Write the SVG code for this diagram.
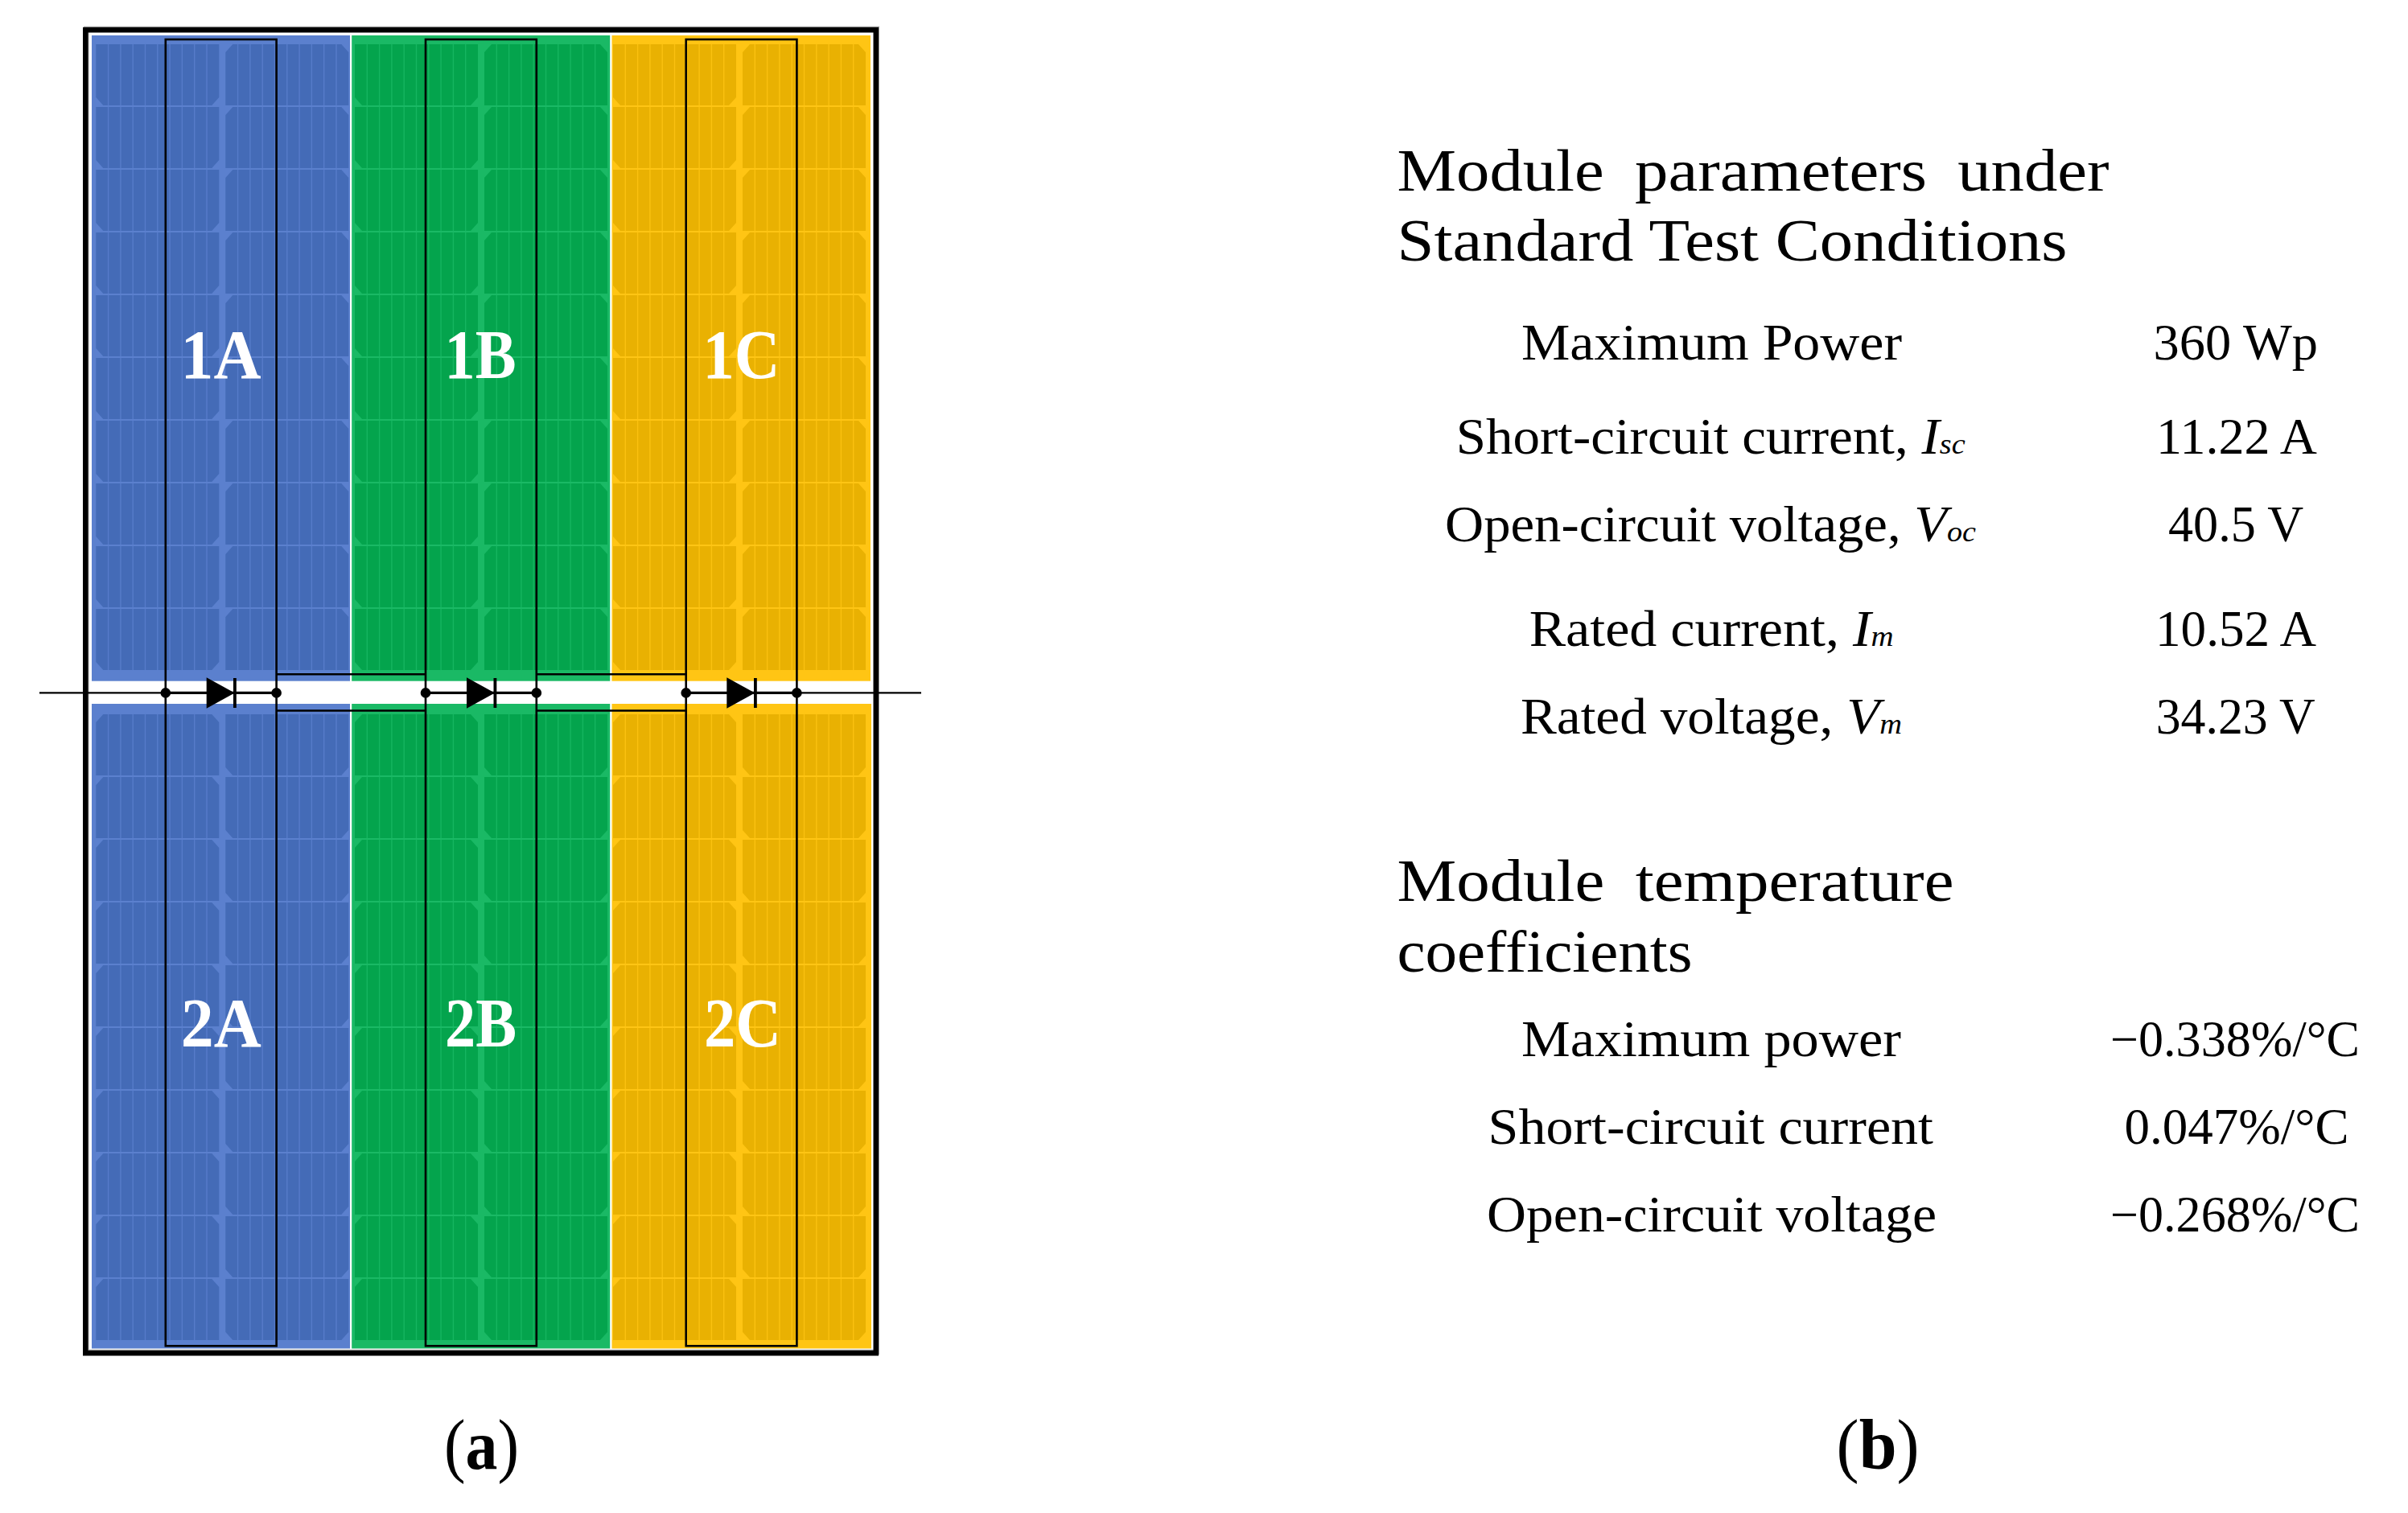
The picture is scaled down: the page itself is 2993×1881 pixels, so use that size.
<svg xmlns="http://www.w3.org/2000/svg" xmlns:xlink="http://www.w3.org/1999/xlink" width="2993" height="1881" viewBox="0 0 2993 1881">
<style>
text{font-family:"Liberation Serif","Times New Roman",serif;fill:#000}
.h{font-size:75px}
.t{font-size:63px}
.cap{font-size:88px}
.lbl{font-size:86px;font-weight:700;fill:#fff}
.i{font-style:italic}
.s{font-style:italic;font-size:36px}
.b{font-weight:700}
.blue{fill:#446bb7;stroke:#5b80ce}
.green{fill:#04a44d;stroke:#1ab965}
.yellow{fill:#e9b102;stroke:#ffc514}
.wire{fill:none;stroke:#000;stroke-width:2.6}
.lead{fill:none;stroke:#000;stroke-width:3.4}
.strip{fill:none;stroke-width:1.4;stroke-opacity:.8}
</style>
<defs>
<g id="cellA"><path stroke="none" d="M0 0H153V66L144 76H9L0 66Z"/><path class="strip" d="M15.3 0V76M30.6 0V76M45.9 0V76M61.2 0V76M76.5 0V76M91.8 0V76M107.1 0V76M122.4 0V76M137.7 0V76"/></g>
<g id="cellB"><path stroke="none" d="M9 0H144L153 10V76H0V10L9 0Z"/><path class="strip" d="M15.3 0V76M30.6 0V76M45.9 0V76M61.2 0V76M76.5 0V76M91.8 0V76M107.1 0V76M122.4 0V76M137.7 0V76"/></g>
<g id="rowT"><use href="#cellA"/><use href="#cellB" x="161"/></g>
<g id="rowB"><use href="#cellB"/><use href="#cellA" x="161"/></g>
<g id="secT"><use href="#rowT"/><use href="#rowT" y="78"/><use href="#rowT" y="156"/><use href="#rowT" y="234"/><use href="#rowT" y="312"/><use href="#rowT" y="390"/><use href="#rowT" y="468"/><use href="#rowT" y="546"/><use href="#rowT" y="624"/><use href="#rowT" y="702"/></g>
<g id="secB"><use href="#rowB"/><use href="#rowB" y="78"/><use href="#rowB" y="156"/><use href="#rowB" y="234"/><use href="#rowB" y="312"/><use href="#rowB" y="390"/><use href="#rowB" y="468"/><use href="#rowB" y="546"/><use href="#rowB" y="624"/><use href="#rowB" y="702"/></g>
<path id="diode" d="M0 -19.2L35 0L0 19.2Z"/>
</defs>
<rect width="2993" height="1881" fill="#fff"/>
<g id="frame">
<rect x="107.2" y="36" width="982.5" height="1645" fill="none" stroke="#9a9a9a" stroke-width="6.5"/>
<rect x="106.25" y="37.25" width="982.5" height="1645" fill="none" stroke="#000" stroke-width="6.5"/>
</g>
<g id="module-1A"><rect x="114" y="44" width="321" height="802.7" fill="#5b80ce"/><use href="#secT" class="blue" x="119.3" y="55"/><text class="lbl" x="224.5" y="470" textLength="100" lengthAdjust="spacingAndGlyphs">1A</text></g>
<g id="module-1B"><rect x="437.2" y="44" width="321" height="802.7" fill="#1ab965"/><use href="#secT" class="green" x="441" y="55"/><text class="lbl" x="552.5" y="470" textLength="89" lengthAdjust="spacingAndGlyphs">1B</text></g>
<g id="module-1C"><rect x="760.5" y="44" width="321.5" height="802.7" fill="#ffc514"/><use href="#secT" class="yellow" x="762" y="55"/><text class="lbl" x="873.5" y="470" textLength="96" lengthAdjust="spacingAndGlyphs">1C</text></g>
<g id="module-2A"><rect x="114" y="875" width="321" height="801.5" fill="#5b80ce"/><use href="#secB" class="blue" x="119.3" y="888"/><text class="lbl" x="224.8" y="1300.5" textLength="100" lengthAdjust="spacingAndGlyphs">2A</text></g>
<g id="module-2B"><rect x="437.2" y="875" width="321" height="801.5" fill="#1ab965"/><use href="#secB" class="green" x="441" y="888"/><text class="lbl" x="553" y="1300.5" textLength="89" lengthAdjust="spacingAndGlyphs">2B</text></g>
<g id="module-2C"><rect x="760.5" y="875" width="322.5" height="801.5" fill="#ffc514"/><use href="#secB" class="yellow" x="762" y="888"/><text class="lbl" x="875" y="1300.5" textLength="96" lengthAdjust="spacingAndGlyphs">2C</text></g>
<g id="connectors">
<rect class="wire" x="205.8" y="49" width="137.8" height="1624.3"/>
<rect class="wire" x="529" y="49" width="137.8" height="1624.3"/>
<rect class="wire" x="852.7" y="49" width="137.7" height="1624.3"/>
<path class="wire" d="M343.6 838.3H529M343.6 883.5H529M666.8 838.3H852.7M666.8 883.5H852.7"/>
<path class="wire" style="stroke-width:2.4" d="M49 861.4H205.8M990.4 861.4H1145"/>
<path class="lead" d="M205.8 861.4H343.6M529 861.4H666.8M852.7 861.4H990.4"/>
</g>
<g id="junctions" fill="#000">
<circle cx="205.8" cy="861.4" r="6.3"/><circle cx="343.6" cy="861.4" r="6.3"/><circle cx="529" cy="861.4" r="6.3"/><circle cx="666.8" cy="861.4" r="6.3"/><circle cx="852.7" cy="861.4" r="6.3"/><circle cx="990.4" cy="861.4" r="6.3"/>
</g>
<g id="diode-A"><use href="#diode" x="256.7" y="861.5"/><rect x="290" y="843" width="3.8" height="37"/></g>
<g id="diode-B"><use href="#diode" x="580" y="861.5"/><rect x="613.5" y="843" width="3.8" height="37"/></g>
<g id="diode-C"><use href="#diode" x="903.3" y="861.5"/><rect x="937" y="843" width="3.8" height="37"/></g>
<g id="caption-a"><text class="cap" x="552" y="1826" textLength="93" lengthAdjust="spacingAndGlyphs">(<tspan class="b">a</tspan>)</text></g>
<g id="caption-b"><text class="cap" x="2282.6" y="1826" textLength="103" lengthAdjust="spacingAndGlyphs">(<tspan class="b">b</tspan>)</text></g>
<g id="table-stc">
<text class="h" x="1736.5" y="236.5" word-spacing="16" textLength="885" lengthAdjust="spacingAndGlyphs">Module parameters under</text>
<text class="h" x="1736.5" y="324" textLength="833" lengthAdjust="spacingAndGlyphs">Standard Test Conditions</text>
<text class="t" x="1891" y="447.2" textLength="473" lengthAdjust="spacingAndGlyphs">Maximum Power</text>
<text class="t" x="2676.5" y="447.2" textLength="204.5" lengthAdjust="spacingAndGlyphs">360 Wp</text>
<text class="t" x="1809.7" y="564" textLength="633" lengthAdjust="spacingAndGlyphs">Short-circuit current, <tspan class="i">I</tspan><tspan class="s">sc</tspan></text>
<text class="t" x="2680" y="564" textLength="200" lengthAdjust="spacingAndGlyphs">11.22 A</text>
<text class="t" x="1796" y="672.5" textLength="660" lengthAdjust="spacingAndGlyphs">Open-circuit voltage, <tspan class="i">V</tspan><tspan class="s">oc</tspan></text>
<text class="t" x="2695" y="672.5" textLength="168" lengthAdjust="spacingAndGlyphs">40.5 V</text>
<text class="t" x="1900.7" y="802.7" textLength="453" lengthAdjust="spacingAndGlyphs">Rated current, <tspan class="i">I</tspan><tspan class="s">m</tspan></text>
<text class="t" x="2679" y="802.7" textLength="200" lengthAdjust="spacingAndGlyphs">10.52 A</text>
<text class="t" x="1890" y="911.7" textLength="474" lengthAdjust="spacingAndGlyphs">Rated voltage, <tspan class="i">V</tspan><tspan class="s">m</tspan></text>
<text class="t" x="2679.7" y="911.7" textLength="198" lengthAdjust="spacingAndGlyphs">34.23 V</text>
</g>
<g id="table-temp">
<text class="h" x="1736.5" y="1120" word-spacing="16" textLength="692" lengthAdjust="spacingAndGlyphs">Module temperature</text>
<text class="h" x="1736.5" y="1207.5" textLength="367" lengthAdjust="spacingAndGlyphs">coefficients</text>
<text class="t" x="1891" y="1313" textLength="472" lengthAdjust="spacingAndGlyphs">Maximum power</text>
<text class="t" x="2623" y="1313" textLength="310" lengthAdjust="spacingAndGlyphs">−0.338%/°C</text>
<text class="t" x="1849.6" y="1422" textLength="553.4" lengthAdjust="spacingAndGlyphs">Short-circuit current</text>
<text class="t" x="2640.6" y="1422" textLength="279" lengthAdjust="spacingAndGlyphs">0.047%/°C</text>
<text class="t" x="1848" y="1530.5" textLength="559" lengthAdjust="spacingAndGlyphs">Open-circuit voltage</text>
<text class="t" x="2623" y="1530.5" textLength="310" lengthAdjust="spacingAndGlyphs">−0.268%/°C</text>
</g>
</svg>
